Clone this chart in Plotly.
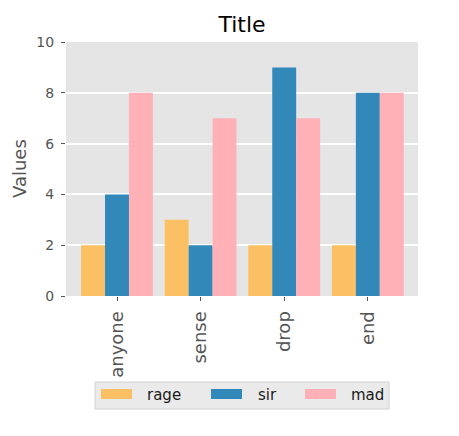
import plotly.graph_objects as go

categories = ["anyone", "sense", "drop", "end"]
rage = [2, 3, 2, 2]
sir = [4, 2, 9, 8]
mad = [8, 7, 7, 8]

names = ["rage", "sir", "mad"]
colors = ["#FBC063", "#3288B9", "#FFB1B7"]
values = [rage, sir, mad]

fig = go.Figure()
for name, vals, color in zip(names, values, colors):
    fig.add_trace(go.Bar(x=categories, y=vals, name=name, marker_color=color,
                         marker_line_width=0, showlegend=False))

font = "DejaVu Sans"

# plot area in page pixels (page has an 8px body margin)
PX0, PX1, PY0, PY1 = 66, 418, 42, 296


def xp(px):
    return (px - PX0) / (PX1 - PX0)


def yp(py):
    return (PY1 - py) / (PY1 - PY0)


# hand-built legend to get matplotlib-style wide patches
shapes = [dict(type="rect", xref="paper", yref="paper",
               x0=xp(95), x1=xp(389), y0=yp(409), y1=yp(382),
               fillcolor="#EAEAEA", line=dict(color="#D2D2D2", width=1), layer="below")]
annotations = []
swatch_x = [101, 211, 305]
label_x = [145, 256, 349]
for name, color, sx, lx in zip(names, colors, swatch_x, label_x):
    shapes.append(dict(type="rect", xref="paper", yref="paper",
                       x0=xp(sx), x1=xp(sx + 31), y0=yp(399), y1=yp(389),
                       fillcolor=color, line=dict(width=0)))
    annotations.append(dict(text=name, xref="paper", yref="paper", x=xp(lx), y=yp(395),
                            xanchor="left", yanchor="middle", showarrow=False,
                            font=dict(family=font, size=15, color="#1A1A1A")))

annotations.append(dict(text="Values", xref="paper", yref="paper", x=xp(19), y=0.5,
                        textangle=-90, xanchor="center", yanchor="middle", showarrow=False,
                        borderpad=0,
                        font=dict(family=font, size=18, color="#555555")))

fig.update_layout(
    width=451, height=428,
    margin=dict(l=58, r=41, t=34, b=140),
    paper_bgcolor="white", plot_bgcolor="#E5E5E5",
    barmode="group", bargap=0.141, bargroupgap=0,
    title=dict(text="Title", x=0.5, xref="paper", xanchor="center",
               y=1 - 16 / 428, yanchor="middle",
               font=dict(family=font, size=22, color="black")),
    font=dict(family=font, color="#555555"),
    shapes=shapes,
    annotations=annotations,
    showlegend=False,
)
fig.update_xaxes(range=[-0.61, 3.6], tickangle=-90, showgrid=False,
                 ticks="outside", ticklen=4, tickcolor="#555555", ticklabelstandoff=3,
                 tickfont=dict(size=18, color="#555555"), showline=False)
fig.update_yaxes(range=[0, 10], dtick=2, showgrid=True, gridcolor="white", gridwidth=1.5,
                 ticks="outside", ticklen=4, tickcolor="#555555", ticklabelstandoff=4,
                 tickfont=dict(size=14, color="#555555"), zeroline=False)

fig.write_html("out.html")
